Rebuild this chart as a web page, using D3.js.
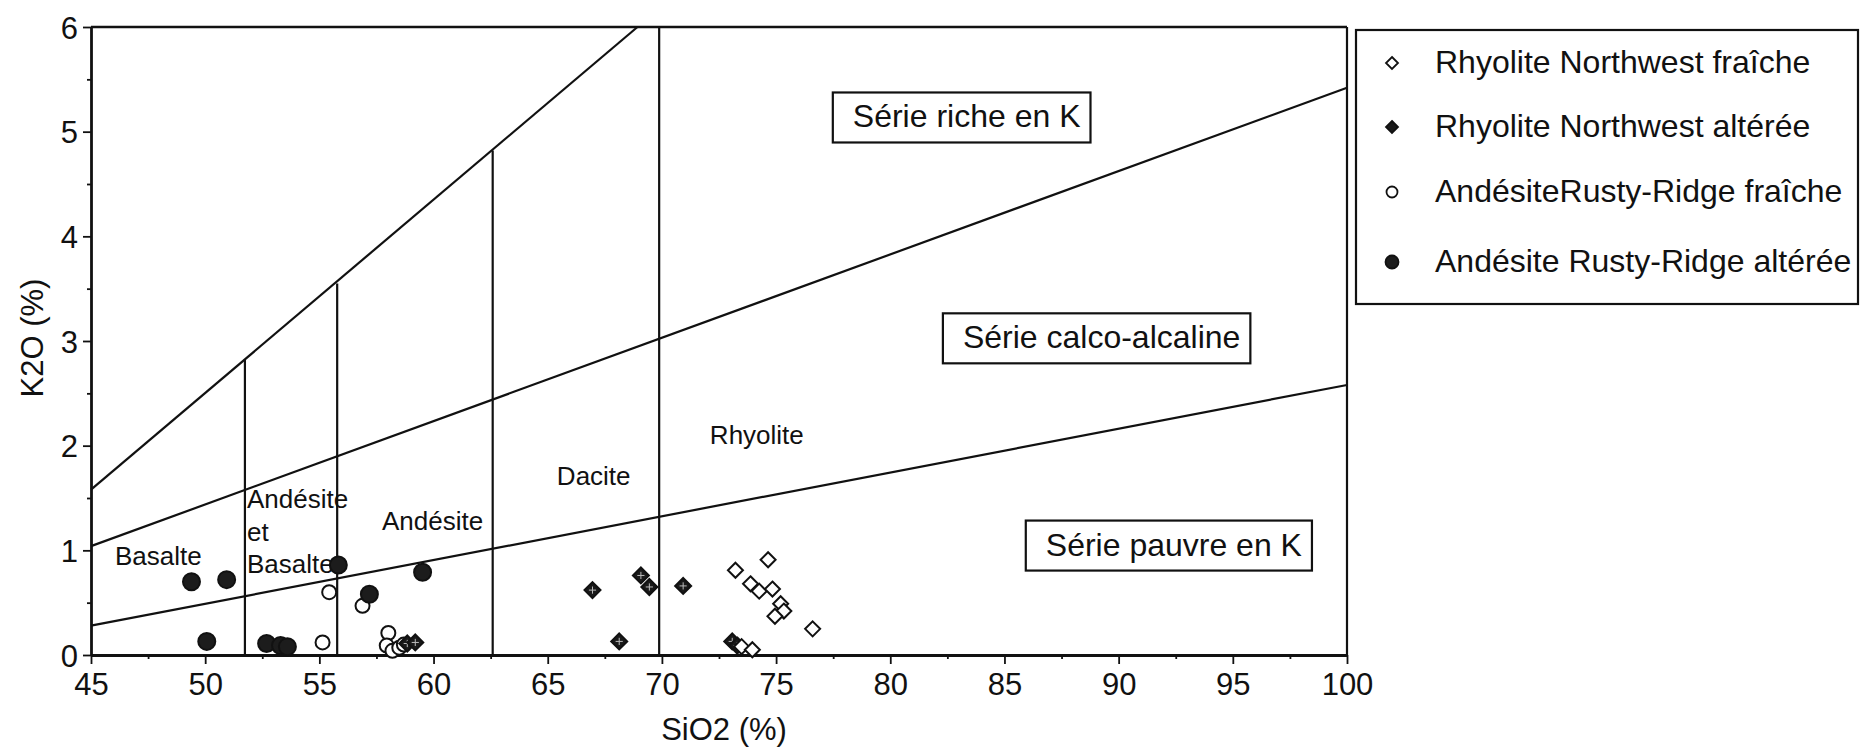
<!DOCTYPE html>
<html>
<head>
<meta charset="utf-8">
<script src="https://cdn.jsdelivr.net/npm/d3@7"></script>
<style>
  html, body { margin: 0; padding: 0; background: #fff; }
  svg text { font-family: "Liberation Sans", Arial, Helvetica, sans-serif; fill: #111; }
</style>
</head>
<body>
<svg id="chart" width="1864" height="749"></svg>
<script>
// --- values ---
const xTicks = [45, 50, 55, 60, 65, 70, 75, 80, 85, 90, 95, 100];
const xMinor = [47.5, 52.5, 57.5, 62.5, 67.5, 72.5, 77.5, 82.5, 87.5, 92.5, 97.5];
const yTicks = [0, 1, 2, 3, 4, 5, 6];
const yMinor = [0.5, 1.5, 2.5, 3.5, 4.5, 5.5];

// series boundaries (SiO2, K2O) end points
const seriesLines = [
  [[45, 1.58], [68.93, 6]],
  [[45, 1.04], [100, 5.42]],
  [[45, 0.28], [100, 2.58]]
];
// vertical rock-type dividers: SiO2 and the K2O where they stop
const dividerX = [51.74, 55.78, 62.59, 69.88];
const dividerTop = [2.82, 3.55, 4.82, 6];

// samples [SiO2, K2O]
const rhyoFraiche = [
  [73.22, 0.81], [74.65, 0.91], [73.88, 0.68], [74.26, 0.61], [74.84, 0.63],
  [75.20, 0.49], [75.34, 0.42], [74.95, 0.37], [76.60, 0.25], [73.49, 0.08], [73.96, 0.05]
];
const rhyoAlteree = [
  [66.96, 0.62], [69.08, 0.76], [69.45, 0.65], [68.13, 0.13], [70.93, 0.66],
  [73.08, 0.13], [73.30, 0.09], [58.85, 0.11], [59.20, 0.12]
];
const andFraiche = [
  [55.43, 0.60], [56.89, 0.47], [55.14, 0.12], [58.02, 0.21], [57.95, 0.09],
  [58.20, 0.04], [58.50, 0.07], [58.70, 0.10]
];
const andAlteree = [
  [49.40, 0.70], [50.94, 0.72], [50.07, 0.13], [52.69, 0.11], [53.30, 0.09],
  [53.60, 0.08], [55.83, 0.86], [57.19, 0.58], [59.52, 0.79]
];

const legendNames = [
  'Rhyolite Northwest fraîche',
  'Rhyolite Northwest altérée',
  'AndésiteRusty-Ridge fraîche',
  'Andésite Rusty-Ridge altérée'
];

// region names: lines, SiO2 of first letter, K2O of first baseline
const rockLabels = [
  { lines: ['Basalte'], x: 46.05, y: 0.86 },
  { lines: ['Andésite', 'et', 'Basalte'], x: 51.83, y: 1.40 },
  { lines: ['Andésite'], x: 57.74, y: 1.19 },
  { lines: ['Dacite'], x: 65.40, y: 1.62 },
  { lines: ['Rhyolite'], x: 72.10, y: 2.02 }
];
const seriesLabels = [
  { text: 'Série riche en K', x: 78.36, y: 5.04 },
  { text: 'Série calco-alcaline', x: 83.18, y: 2.93 },
  { text: 'Série pauvre en K', x: 86.81, y: 0.95 }
];

// --- layout ---
const svg = d3.select('#chart');
const x = d3.scaleLinear().domain([45, 100]).range([91, 1347]);
const y = d3.scaleLinear().domain([0, 6]).range([655, 27]);
const ink = '#111';

// frame top & right
svg.append('line').attr('x1', x(45)).attr('x2', x(100)).attr('y1', y(6)).attr('y2', y(6))
  .attr('stroke', ink).attr('stroke-width', 2.5);
svg.append('line').attr('x1', x(100)).attr('x2', x(100)).attr('y1', y(6)).attr('y2', y(0))
  .attr('stroke', ink).attr('stroke-width', 2.2);

// axes
svg.append('g').attr('transform', `translate(0,${y(0)})`)
  .call(d3.axisBottom(x).tickValues(xTicks).tickFormat(d3.format('d'))
    .tickSize(9).tickPadding(9).tickSizeOuter(0));
svg.append('g').attr('transform', `translate(0,${y(0)})`)
  .call(d3.axisBottom(x).tickValues(xMinor).tickSize(4).tickFormat('').tickSizeOuter(0))
  .select('.domain').remove();
const yAxis = svg.append('g').attr('transform', `translate(${x(45)},0)`)
  .call(d3.axisLeft(y).tickValues(yTicks).tickFormat(d3.format('d'))
    .tickSize(8).tickPadding(5).tickSizeOuter(0));
svg.append('g').attr('transform', `translate(${x(45)},0)`)
  .call(d3.axisLeft(y).tickValues(yMinor).tickSize(4).tickFormat('').tickSizeOuter(0))
  .select('.domain').remove();

svg.selectAll('.domain').attr('stroke', ink).attr('stroke-width', 2.8);
svg.selectAll('.tick line').attr('stroke', ink).attr('stroke-width', 1.8);
svg.selectAll('.tick text').attr('font-size', 31).attr('fill', ink)
  .attr('font-family', '"Liberation Sans", Arial, Helvetica, sans-serif');
yAxis.selectAll('.tick text').attr('dy', '0.36em');

// axis titles
svg.append('text').attr('x', 724).attr('y', 740).attr('text-anchor', 'middle')
  .attr('font-size', 31).text('SiO2 (%)');
svg.append('text').attr('transform', 'translate(43,338) rotate(-90)').attr('text-anchor', 'middle')
  .attr('font-size', 31).text('K2O (%)');

// boundaries
const line = d3.line().x(d => x(d[0])).y(d => y(d[1]));
svg.append('g').selectAll('path').data(seriesLines).join('path')
  .attr('d', line).attr('fill', 'none').attr('stroke', ink).attr('stroke-width', 2.2);
svg.append('g').selectAll('line').data(dividerX).join('line')
  .attr('x1', d => x(d)).attr('x2', d => x(d))
  .attr('y1', y(0)).attr('y2', (d, i) => y(dividerTop[i]))
  .attr('stroke', ink).attr('stroke-width', 2.2);

// rock names
rockLabels.forEach(l => {
  const t = svg.append('text').attr('x', x(l.x)).attr('y', y(l.y)).attr('font-size', 26);
  l.lines.forEach((s, i) => {
    t.append('tspan').attr('x', x(l.x)).attr('dy', i === 0 ? 0 : 32.5).text(s);
  });
});

// series name boxes
seriesLabels.forEach(l => {
  const g = svg.append('g');
  const t = g.append('text').attr('x', x(l.x)).attr('y', y(l.y)).attr('font-size', 32).text(l.text);
  const b = t.node().getBBox();
  g.insert('rect', 'text')
    .attr('x', b.x - 20).attr('y', b.y - 6)
    .attr('width', b.width + 30).attr('height', b.height + 14)
    .attr('fill', '#fff').attr('stroke', ink).attr('stroke-width', 2.2);
});

// markers
const diamond = r => `M0,${-r}L${r},0L0,${r}L${-r},0Z`;
function drawDiamonds(data, r, filled) {
  const g = svg.append('g').selectAll('g').data(data).join('g')
    .attr('transform', d => `translate(${x(d[0])},${y(d[1])})`);
  g.append('path').attr('d', diamond(r))
    .attr('fill', filled ? '#1a1a1a' : '#fff').attr('stroke', ink).attr('stroke-width', 2);
  if (filled) {
    g.append('path').attr('d', `M${-r * 0.45},0H${r * 0.45}M0,${-r * 0.45}V${r * 0.45}`)
      .attr('stroke', '#fff').attr('stroke-width', 1).attr('opacity', 0.7);
  }
}
function drawCircles(data, r, filled) {
  svg.append('g').selectAll('circle').data(data).join('circle')
    .attr('cx', d => x(d[0])).attr('cy', d => y(d[1])).attr('r', r)
    .attr('fill', filled ? '#1c1c1c' : '#fff').attr('stroke', ink).attr('stroke-width', 2);
}
drawCircles(andFraiche, 7, false);
drawCircles(andAlteree, 8.5, true);
drawDiamonds(rhyoAlteree, 8, true);
drawDiamonds(rhyoFraiche, 7.5, false);

// legend
const legend = svg.append('g');
legend.append('rect').attr('x', 1356).attr('y', 30).attr('width', 502).attr('height', 274)
  .attr('fill', '#fff').attr('stroke', ink).attr('stroke-width', 2.2);
const rowY = [63, 127, 192, 262];
legendNames.forEach((name, i) => {
  const cy = rowY[i];
  if (i < 2) {
    legend.append('path').attr('transform', `translate(1392,${cy})`).attr('d', diamond(6))
      .attr('fill', i === 1 ? '#1a1a1a' : '#fff').attr('stroke', ink).attr('stroke-width', 1.8);
  } else {
    legend.append('circle').attr('cx', 1392).attr('cy', cy).attr('r', i === 3 ? 6.5 : 5.5)
      .attr('fill', i === 3 ? '#1c1c1c' : '#fff').attr('stroke', ink).attr('stroke-width', 1.8);
  }
  legend.append('text').attr('x', 1435).attr('y', cy + 10).attr('font-size', 32).text(name);
});
</script>
</body>
</html>
